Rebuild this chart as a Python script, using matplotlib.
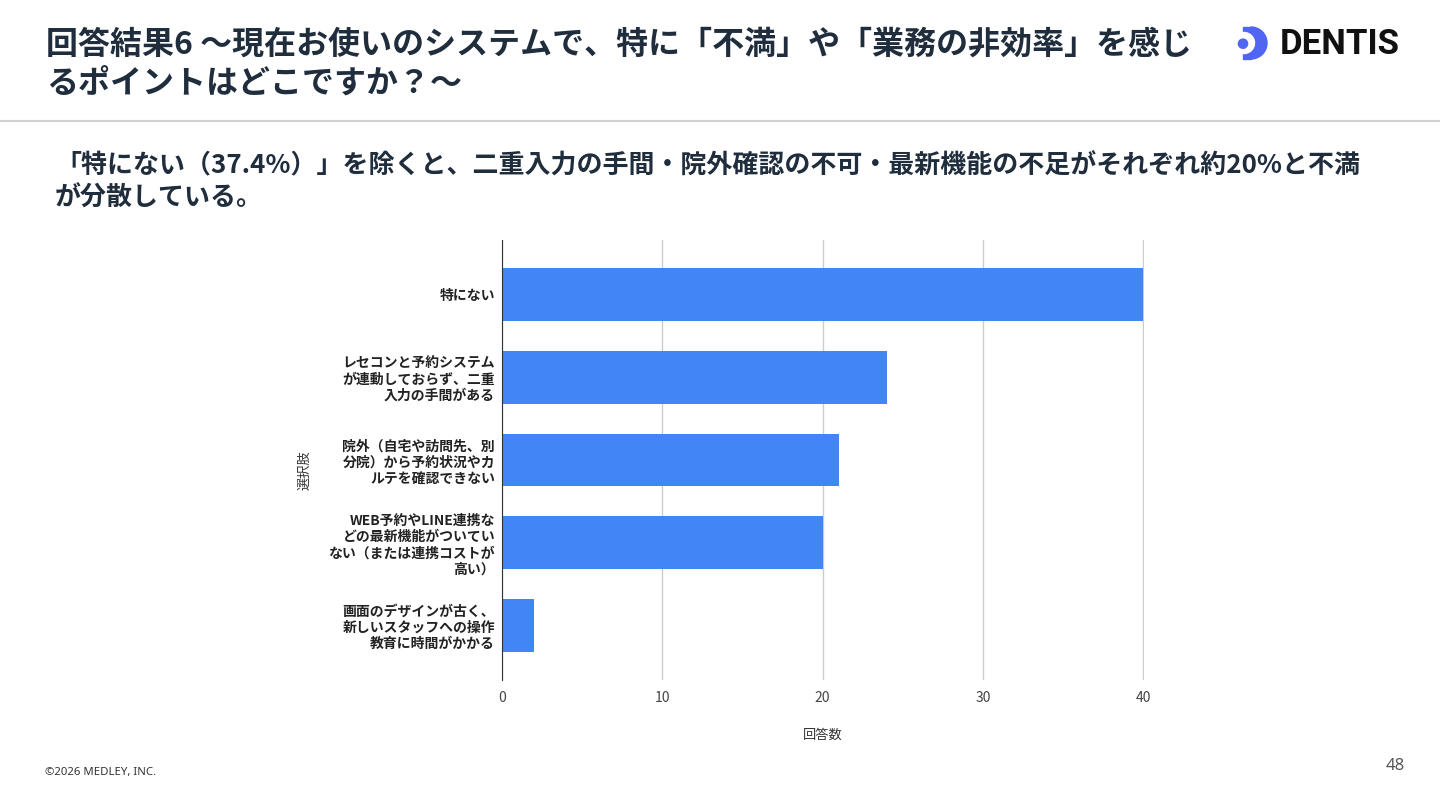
import matplotlib.pyplot as plt
from matplotlib.patches import Circle, Wedge, Rectangle

plt.rcParams['font.family'] = ['Noto Sans CJK JP', 'DejaVu Sans']

# data
choices = [
    '特にない',
    'レセコンと予約システム\nが連動しておらず、二重\n入力の手間がある',
    '院外（自宅や訪問先、別\n分院）から予約状況やカ\nルテを確認できない',
    'WEB予約やLINE連携な\nどの最新機能がついてい\nない（または連携コストが\n高い）',
    '画面のデザインが古く、\n新しいスタッフへの操作\n教育に時間がかかる',
]
counts = [40, 24, 21, 20, 2]
xticks = [0, 10, 20, 30, 40]

title = '回答結果6 〜現在お使いのシステムで、特に「不満」や「業務の非効率」を感じ\nるポイントはどこですか？〜'
subtitle = '「特にない（37.4%）」を除くと、二重入力の手間・院外確認の不可・最新機能の不足がそれぞれ約20%と不満\nが分散している。'

W, H = 1440, 810
fig = plt.figure(figsize=(W / 100, H / 100), dpi=100)
navy = '#1f2d3d'

# page furniture drawn in pixel coordinates
bg = fig.add_axes([0, 0, 1, 1])
bg.set_xlim(0, W)
bg.set_ylim(H, 0)
bg.axis('off')
bg.plot([0, W], [121, 121], color='#d0d0d0', lw=1.5)

bg.text(46, 29, title, fontsize=23, fontweight='bold', color=navy,
        va='top', ha='left', linespacing=1.3)
bg.text(55, 152, subtitle, fontsize=18.7, fontweight='bold', color=navy,
        va='top', ha='left', linespacing=1.25)
bg.text(45, 772, '©2026 MEDLEY, INC.', fontsize=8.2, color='#333333',
        va='center', ha='left', family=['Noto Sans', 'DejaVu Sans'])
bg.text(1395, 766, '48', fontsize=12, color='#555555', va='center', ha='center',
        family=['Noto Sans', 'DejaVu Sans'])

# logo
blue_logo = '#5066f2'
bg.add_patch(Wedge((1251, 43), 16, -90, 90, color=blue_logo))
bg.add_patch(Rectangle((1243, 27), 8, 32, color=blue_logo))
bg.add_patch(Circle((1244, 43), 10.5, color='white'))
bg.add_patch(Circle((1243, 43.7), 4.6, color=blue_logo))
bg.text(1280, 44, 'DENTIS', fontsize=25, fontweight='bold', color='#111111',
        va='center', ha='left', family=['Roboto', 'DejaVu Sans'])

# chart
ax = fig.add_axes([502 / W, 1 - 680 / H, (1144 - 502) / W, (680 - 240) / H])
ypos = list(range(len(choices)))
ax.barh(ypos, counts, height=0.64, color='#4285f4', zorder=3)
ax.set_ylim(len(choices) - 0.34, -0.66)
ax.set_xlim(0, 40.05)
ax.set_xticks(xticks)
ax.set_xticklabels([str(t) for t in xticks], fontsize=10, color='#444444')
ax.set_yticks(ypos)
ax.set_yticklabels(choices, fontsize=10, fontweight='bold', color='#222222',
                   linespacing=1.2, ha='right')
ax.tick_params(axis='both', length=0)
ax.tick_params(axis='y', pad=5)
ax.tick_params(axis='x', pad=8)
ax.grid(axis='x', color='#cccccc', lw=1, zorder=0)
for s in ['top', 'right', 'bottom']:
    ax.spines[s].set_visible(False)
ax.spines['left'].set_color('#333333')
ax.spines['left'].set_zorder(4)

fig.text(823 / W, 1 - 735 / H, '回答数', fontsize=9.5, color='#333333',
         ha='center', va='center')
fig.text(305 / W, 1 - 470 / H, '選択肢', fontsize=9.5, color='#333333',
         ha='center', va='center', rotation=90)

fig.savefig('out.png', dpi=100)
